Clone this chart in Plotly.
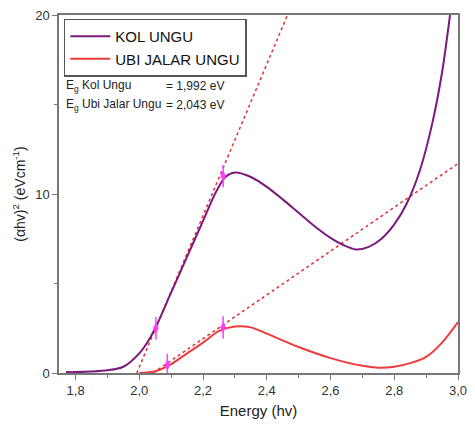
import plotly.graph_objects as go

# KOL UNGU curve
kol_x = [1.77, 1.80, 1.85, 1.90, 1.95, 2.00, 2.025, 2.05, 2.10, 2.15, 2.20, 2.24, 2.27, 2.30, 2.35,
         2.40, 2.45, 2.50, 2.55, 2.60, 2.64, 2.68, 2.72, 2.76, 2.80, 2.84, 2.88, 2.92, 2.95, 2.975]
kol_y = [0.05, 0.05, 0.08, 0.15, 0.35, 1.1, 1.7, 2.5, 4.5, 6.5, 8.5, 10.1, 10.95, 11.2, 10.95,
         10.4, 9.7, 8.95, 8.2, 7.55, 7.15, 6.9, 7.05, 7.5, 8.3, 9.5, 11.3, 14.0, 16.8, 20.0]

# UBI JALAR UNGU curve
ubi_x = [2.00, 2.05, 2.10, 2.15, 2.20, 2.25, 2.30, 2.35, 2.40, 2.50, 2.60, 2.70, 2.75, 2.80,
         2.85, 2.90, 2.95, 3.00]
ubi_y = [0.0, 0.1, 0.5, 1.1, 1.7, 2.35, 2.6, 2.55, 2.2, 1.45, 0.83, 0.4, 0.3, 0.35,
         0.55, 0.9, 1.7, 2.85]

# Linear (Tauc) fits
kol_fit_x = [1.992, 2.465]
kol_fit_y = [0.0, 20.0]
ubi_fit_x = [2.043, 3.0]
ubi_fit_y = [0.0, 11.7]

# fit-range markers
mark_x = [2.052, 2.263, 2.088, 2.263]
mark_y = [2.5, 11.0, 0.45, 2.55]

x_ticks = [1.8, 2.0, 2.2, 2.4, 2.6, 2.8, 3.0]
y_ticks = [0, 10, 20]

PURPLE = "#7b1a7b"
RED = "#ee3b3b"
DOT = "#e0303a"
MAG = "#ff3cff"
FONT = "Liberation Sans, Arial"

fig = go.Figure()
fig.add_trace(go.Scatter(x=kol_fit_x, y=kol_fit_y, mode="lines", showlegend=False,
                         line=dict(color=DOT, width=1.5, dash="dot")))
fig.add_trace(go.Scatter(x=ubi_fit_x, y=ubi_fit_y, mode="lines", showlegend=False,
                         line=dict(color=DOT, width=1.5, dash="dot")))
fig.add_trace(go.Scatter(x=kol_x, y=kol_y, mode="lines", name="KOL UNGU",
                         line=dict(color=PURPLE, width=2, shape="spline", smoothing=0.8)))
fig.add_trace(go.Scatter(x=ubi_x, y=ubi_y, mode="lines", name="UBI JALAR UNGU",
                         line=dict(color=RED, width=2, shape="spline", smoothing=0.8)))
fig.add_trace(go.Scatter(x=mark_x, y=mark_y, mode="markers", showlegend=False,
                         marker=dict(symbol="line-ns", size=16, line=dict(color=MAG, width=1.5))))
fig.add_trace(go.Scatter(x=mark_x, y=mark_y, mode="markers", showlegend=False,
                         marker=dict(symbol="diamond-tall", size=8, color=MAG)))

axis_common = dict(showline=True, linecolor="#777", linewidth=1.5, mirror=True,
                   ticks="outside", tickcolor="#777", ticklen=5, showgrid=False,
                   zeroline=False, tickfont=dict(family=FONT, size=13, color="#333"))

fig.update_xaxes(range=[1.748, 3.0], tickvals=x_ticks, tickformat=".1f",
                 minor=dict(dtick=0.1, ticks="outside", ticklen=3, tickcolor="#777"),
                 title=dict(text="Energy (hv)", font=dict(family=FONT, size=15, color="#222"),
                            standoff=8),
                 **axis_common)
fig.update_yaxes(range=[0, 20], tickvals=y_ticks,
                 minor=dict(dtick=5, ticks="outside", ticklen=3, tickcolor="#777"),
                 title=dict(text="(αhv)<sup>2</sup> (eVcm<sup>-1</sup>)",
                            font=dict(family=FONT, size=14, color="#222"), standoff=6),
                 **axis_common)

ann_font = dict(family=FONT, size=12, color="#222")
fig.add_annotation(x=0.012, y=0.802, xref="paper", yref="paper", xanchor="left", yanchor="middle",
                   showarrow=False, text="E<sub>g</sub> Kol Ungu", font=ann_font)
fig.add_annotation(x=0.263, y=0.802, xref="paper", yref="paper", xanchor="left", yanchor="middle",
                   showarrow=False, text="= 1,992 eV", font=ann_font)
fig.add_annotation(x=0.012, y=0.748, xref="paper", yref="paper", xanchor="left", yanchor="middle",
                   showarrow=False, text="E<sub>g</sub> Ubi Jalar Ungu", font=ann_font)
fig.add_annotation(x=0.263, y=0.748, xref="paper", yref="paper", xanchor="left", yanchor="middle",
                   showarrow=False, text="= 2,043 eV", font=ann_font)

fig.update_layout(
    width=475, height=434, separators=",.",
    margin=dict(l=59, r=8, t=15, b=61),
    paper_bgcolor="white", plot_bgcolor="white",
    legend=dict(x=0.012, y=0.99, xanchor="left", yanchor="top",
                bordercolor="#555", borderwidth=1.5, bgcolor="white",
                font=dict(family=FONT, size=15, color="#111"),
                tracegroupgap=0, itemwidth=40),
    showlegend=True,
)

fig.write_html("out.html")
